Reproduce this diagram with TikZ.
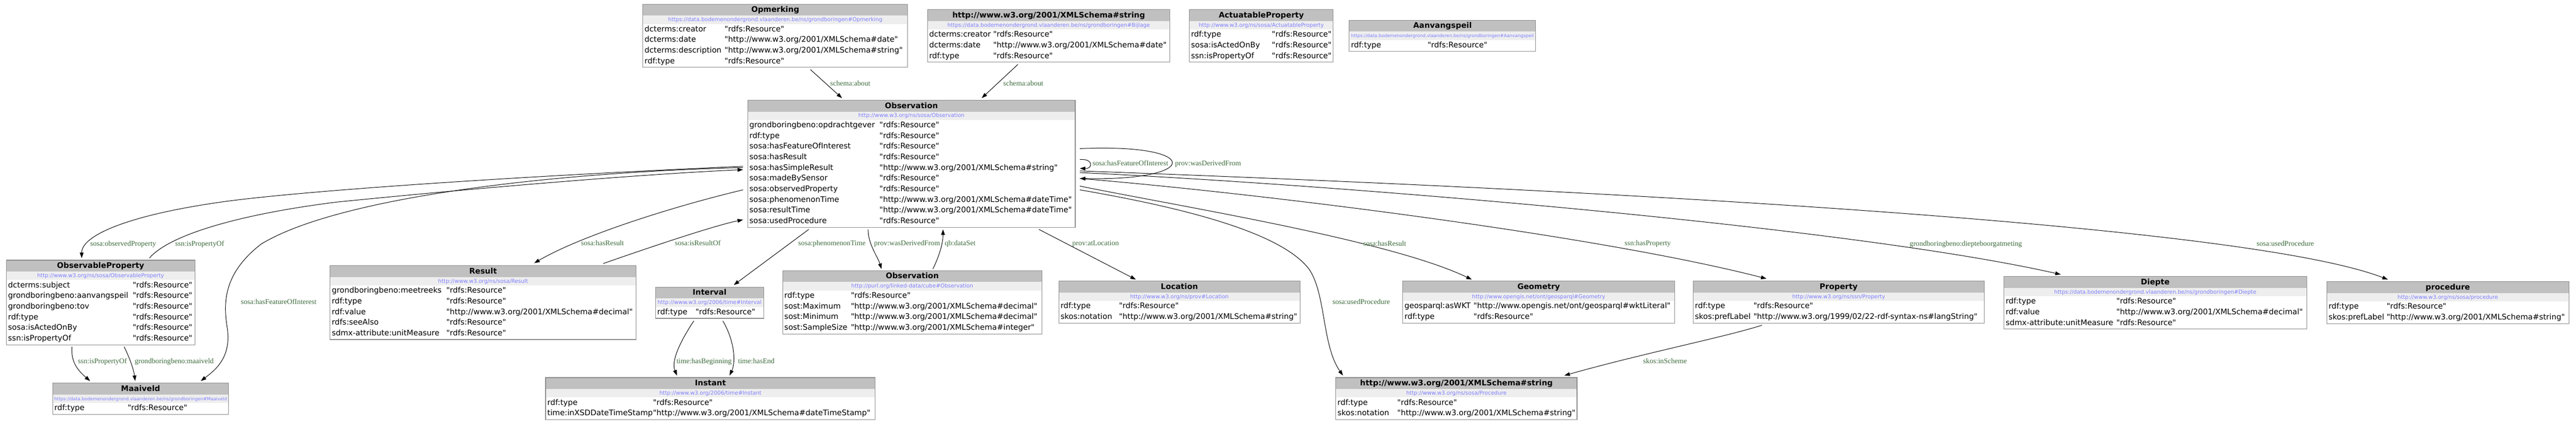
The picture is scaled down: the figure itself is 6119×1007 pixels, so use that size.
\documentclass[tikz,border=0pt]{standalone}
\usepackage{fontspec}
\newfontfamily\dvs{DejaVu Sans}
\newfontfamily\lser{Liberation Serif}
\usetikzlibrary{arrows.meta}
\definecolor{hdr}{HTML}{C0C0C0}
\definecolor{urlbg}{HTML}{EEEEEE}
\definecolor{urlc}{HTML}{7F7FFF}
\definecolor{bord}{HTML}{8A8A8A}
\definecolor{lblc}{HTML}{3D6B3D}
\tikzset{
 clsframe/.style={draw=bord, line width=1.3pt, fill=none, inner sep=0pt, outer sep=0pt},
 ttl/.style={anchor=base, inner sep=0pt, font=\dvs\bfseries\fontsize{18.3}{20}\selectfont},
 urlt/.style={anchor=base, inner sep=0pt, text=urlc, font=\dvs\fontsize{12.8}{14}\selectfont},
 rowtxt/.style={anchor=base west, inner sep=0pt, font=\dvs\fontsize{18.3}{20}\selectfont},
 lbl/.style={anchor=base west, inner sep=0pt, text=lblc, font=\lser\fontsize{17.3}{19}\selectfont},
 conn/.style={draw=black, line width=1.2pt, -{Triangle[length=13pt,width=9pt]}},
}
\newcommand\rdfR{"rdfs:Resource"}
\newcommand\xsdT[1]{"http://www.w3.org/2001/XMLSchema\##1"}
% name, x, y, w, nrows, valueoffset, title, url
\newcommand\cls[8]{%
  \def\bn{#1}\def\bx{#2}\def\by{#3}\def\bv{#6}%
  \fill[hdr] (#2,#3) rectangle ({#2+#4},{#3+27});
  \fill[urlbg] (#2,{#3+27}) rectangle ({#2+#4},{#3+47});
  \node[ttl] (#1-t) at ({#2+#4/2},{#3+19}) {#7};
  \node[urlt] (#1-u) at ({#2+#4/2},{#3+41}) {#8};
  \node[clsframe, minimum width=#4pt, minimum height={49pt+#5*25.3pt}, anchor=north west] (#1) at (#2,#3) {};
}
\newcommand\rw[3]{%
  \node[rowtxt] (\bn-k#1) at ({\bx+4},{\by+65+(#1-1)*25.3}) {#2};
  \node[rowtxt] (\bn-v#1) at ({\bx+\bv},{\by+65+(#1-1)*25.3}) {#3};
}
\begin{document}
\begin{tikzpicture}[x=1pt,y=-1pt]
\useasboundingbox (0,0) rectangle (6119,1007);
\fill[white] (0,0) rectangle (6119,1007);

% ---------- top rank
\cls{opm}{1527}{10}{629}{4}{194}{Opmerking}{https://data.bodemenondergrond.vlaanderen.be/ns/grondboringen\#Opmerking}
\rw{1}{dcterms:creator}{\rdfR}
\rw{2}{dcterms:date}{\xsdT{date}}
\rw{3}{dcterms:description}{\xsdT{string}}
\rw{4}{rdf:type}{\rdfR}

\cls{bij}{2203}{23}{576}{3}{156}{http://www.w3.org/2001/XMLSchema\#string}{https://data.bodemenondergrond.vlaanderen.be/ns/grondboringen\#Bijlage}
\rw{1}{dcterms:creator}{\rdfR}
\rw{2}{dcterms:date}{\xsdT{date}}
\rw{3}{rdf:type}{\rdfR}

\cls{act}{2825}{23}{342}{3}{196}{ActuatableProperty}{http://www.w3.org/ns/sosa/ActuatableProperty}
\rw{1}{rdf:type}{\rdfR}
\rw{2}{sosa:isActedOnBy}{\rdfR}
\rw{3}{ssn:isPropertyOf}{\rdfR}

\cls{aan}{3205}{48}{443}{1}{186}{Aanvangspeil}{{\fontsize{10.6}{12}\selectfont https://data.bodemenondergrond.vlaanderen.be/ns/grondboringen\#Aanvangspeil}}
\rw{1}{rdf:type}{\rdfR}

% ---------- Observation
\cls{obs}{1776}{238}{778}{10}{313}{Observation}{http://www.w3.org/ns/sosa/Observation}
\rw{1}{grondboringbeno:opdrachtgever}{\rdfR}
\rw{2}{rdf:type}{\rdfR}
\rw{3}{sosa:hasFeatureOfInterest}{\rdfR}
\rw{4}{sosa:hasResult}{\rdfR}
\rw{5}{sosa:hasSimpleResult}{\xsdT{string}}
\rw{6}{sosa:madeBySensor}{\rdfR}
\rw{7}{sosa:observedProperty}{\rdfR}
\rw{8}{sosa:phenomenonTime}{\xsdT{dateTime}}
\rw{9}{sosa:resultTime}{\xsdT{dateTime}}
\rw{10}{sosa:usedProcedure}{\rdfR}

% ---------- middle rank
\cls{op}{15}{618}{448}{6}{300}{ObservableProperty}{http://www.w3.org/ns/sosa/ObservableProperty}
\rw{1}{dcterms:subject}{\rdfR}
\rw{2}{grondboringbeno:aanvangspeil}{\rdfR}
\rw{3}{grondboringbeno:tov}{\rdfR}
\rw{4}{rdf:type}{\rdfR}
\rw{5}{sosa:isActedOnBy}{\rdfR}
\rw{6}{ssn:isPropertyOf}{\rdfR}

\cls{result}{784}{631}{727}{5}{276}{Result}{http://www.w3.org/ns/sosa/Result}
\rw{1}{grondboringbeno:meetreeks}{\rdfR}
\rw{2}{rdf:type}{\rdfR}
\rw{3}{rdf:value}{\xsdT{decimal}}
\rw{4}{rdfs:seeAlso}{\rdfR}
\rw{5}{sdmx-attribute:unitMeasure}{\rdfR}

\cls{interval}{1557}{682}{257}{1}{95}{Interval}{http://www.w3.org/2006/time\#Interval}
\rw{1}{rdf:type}{\rdfR}

\cls{cube}{1859}{643}{616}{4}{162}{Observation}{http://purl.org/linked-data/cube\#Observation}
\rw{1}{rdf:type}{\rdfR}
\rw{2}{sost:Maximum}{\xsdT{decimal}}
\rw{3}{sost:Minimum}{\xsdT{decimal}}
\rw{4}{sost:SampleSize}{\xsdT{integer}}

\cls{loc}{2515}{668}{573}{2}{143}{Location}{http://www.w3.org/ns/prov\#Location}
\rw{1}{rdf:type}{\rdfR}
\rw{2}{skos:notation}{\xsdT{string}}

\cls{geom}{3332}{668}{646}{2}{168}{Geometry}{http://www.opengis.net/ont/geosparql\#Geometry}
\rw{1}{geosparql:asWKT}{"http://www.opengis.net/ont/geosparql\#wktLiteral"}
\rw{2}{rdf:type}{\rdfR}

\cls{prop}{4022}{668}{691}{2}{143}{Property}{http://www.w3.org/ns/ssn/Property}
\rw{1}{rdf:type}{\rdfR}
\rw{2}{skos:prefLabel}{"http://www.w3.org/1999/02/22-rdf-syntax-ns\#langString"}

\cls{diepte}{4760}{657}{719}{3}{267}{Diepte}{https://data.bodemenondergrond.vlaanderen.be/ns/grondboringen\#Diepte}
\rw{1}{rdf:type}{\rdfR}
\rw{2}{rdf:value}{\xsdT{decimal}}
\rw{3}{sdmx-attribute:unitMeasure}{\rdfR}

\cls{proc}{5527}{669}{575}{2}{142}{procedure}{http://www.w3.org/ns/sosa/procedure}
\rw{1}{rdf:type}{\rdfR}
\rw{2}{skos:prefLabel}{\xsdT{string}}

% ---------- bottom rank
\cls{maai}{125}{910}{418}{1}{178}{Maaiveld}{{\fontsize{10.6}{12}\selectfont https://data.bodemenondergrond.vlaanderen.be/ns/grondboringen\#Maaiveld}}
\rw{1}{rdf:type}{\rdfR}

\cls{inst}{1296}{897}{783}{2}{255}{Instant}{http://www.w3.org/2006/time\#Instant}
\rw{1}{rdf:type}{\rdfR}
\rw{2}{time:inXSDDateTimeStamp}{\xsdT{dateTimeStamp}}

\cls{xsdb}{3173}{897}{573}{2}{146}{http://www.w3.org/2001/XMLSchema\#string}{http://www.w3.org/ns/sosa/Procedure}
\rw{1}{rdf:type}{\rdfR}
\rw{2}{skos:notation}{\xsdT{string}}

% ---------- connectors
\draw[conn] ([xshift=398pt,yshift=-5pt]opm.south west) -- ([xshift=224pt,yshift=5pt]obs.north west);
\node[lbl] (l1) at (1972,204) {schema:about};
\draw[conn] ([xshift=215pt,yshift=-5pt]bij.south west) -- ([xshift=556pt,yshift=5pt]obs.north west);
\node[lbl] (l2) at (2383,204) {schema:about};

\draw[conn] ([xshift=11pt,yshift=-141pt]obs.north east) .. controls (2597,376) and (2597,401) .. ([xshift=11pt,yshift=-162pt]obs.north east);
\node[lbl] (l3) at (2595,393) {sosa:hasFeatureOfInterest};
\draw[conn] ([xshift=11pt,yshift=-115pt]obs.north east) .. controls (2856,340) and (2856,430) .. ([xshift=11pt,yshift=-186pt]obs.north east);
\node[lbl] (l4) at (2791,393) {prov:wasDerivedFrom};

\draw[conn] ([xshift=-11pt,yshift=-157pt]obs.north west) .. controls (1200,420) and (700,455) .. (525,480) .. controls (300,512) and (194,560) .. ([xshift=179pt,yshift=5pt]op.north west);
\node[lbl] (l5) at (214,584) {sosa:observedProperty};
\draw[conn] ([xshift=340pt,yshift=5pt]op.north west) .. controls (400,560) and (560,510) .. (800,480) .. controls (1100,450) and (1500,415) .. ([xshift=-11pt,yshift=-165pt]obs.north west);
\node[lbl] (l6) at (416,584) {ssn:isPropertyOf};
\draw[conn] ([xshift=-11pt,yshift=-160pt]obs.north west) .. controls (1300,410) and (800,470) .. (620,580) .. controls (530,650) and (530,720) .. (540,780) .. controls (550,850) and (510,880) .. ([xshift=352pt,yshift=5pt]maai.north west);
\node[lbl] (l7) at (572,723) {sosa:hasFeatureOfInterest};

\draw[conn] ([xshift=156pt,yshift=-5pt]op.south west) .. controls (168,860) and (185,880) .. ([xshift=89pt,yshift=5pt]maai.north west);
\node[lbl] (l8) at (185,863) {ssn:isPropertyOf};
\draw[conn] ([xshift=280pt,yshift=-5pt]op.south west) .. controls (310,855) and (318,880) .. ([xshift=196pt,yshift=5pt]maai.north west);
\node[lbl] (l9) at (320,863) {grondboringbeno:maaiveld};

\draw[conn] ([xshift=-11pt,yshift=-213pt]obs.north west) .. controls (1600,490) and (1380,560) .. ([xshift=485pt,yshift=6pt]result.north west);
\node[lbl] (l10) at (1380,583) {sosa:hasResult};
\draw[conn] ([xshift=649pt,yshift=5pt]result.north west) .. controls (1550,585) and (1700,535) .. ([xshift=-11pt,yshift=-284pt]obs.north west);
\node[lbl] (l11) at (1603,583) {sosa:isResultOf};

\draw[conn] ([xshift=145pt,yshift=-5pt]obs.south west) -- ([xshift=186pt,yshift=5pt]interval.north west);
\node[lbl] (l12) at (1896,583) {sosa:phenomenonTime};
\draw[conn] ([xshift=286pt,yshift=-5pt]obs.south west) .. controls (2062,580) and (2085,610) .. ([xshift=235pt,yshift=4pt]cube.north west);
\node[lbl] (l13) at (2076,583) {prov:wasDerivedFrom};
\draw[conn] ([xshift=357pt,yshift=4pt]cube.north west) .. controls (2230,610) and (2240,580) .. ([xshift=464pt,yshift=-5pt]obs.south west);
\node[lbl] (l14) at (2244,583) {qb:dataSet};
\draw[conn] ([xshift=692pt,yshift=-5pt]obs.south west) -- ([xshift=183pt,yshift=4pt]loc.north west);
\node[lbl] (l15) at (2547,583) {prov:atLocation};

\draw[conn] ([xshift=11pt,yshift=-204pt]obs.north east) .. controls (2800,490) and (3300,570) .. ([xshift=164pt,yshift=4pt]geom.north west);
\node[lbl] (l16) at (3238,584) {sosa:hasResult};
\draw[conn] ([xshift=11pt,yshift=-213pt]obs.north east) .. controls (2850,500) and (3050,560) .. (3110,640) .. controls (3150,700) and (3140,820) .. ([xshift=17pt,yshift=5pt]xsdb.north west);
\node[lbl] (l17) at (3165,723) {sosa:usedProcedure};
\draw[conn] ([xshift=11pt,yshift=-186pt]obs.north east) .. controls (3000,460) and (3800,560) .. ([xshift=174pt,yshift=6pt]prop.north west);
\node[lbl] (l18) at (3859,583) {ssn:hasProperty};
\draw[conn] ([xshift=11pt,yshift=-172pt]obs.north east) .. controls (3200,440) and (4400,540) .. ([xshift=135pt,yshift=5pt]diepte.north west);
\node[lbl] (l19) at (4536,584) {grondboringbeno:diepteboorgatmeting};
\draw[conn] ([xshift=11pt,yshift=-168pt]obs.north east) .. controls (3500,440) and (5300,520) .. ([xshift=145pt,yshift=5pt]proc.north west);
\node[lbl] (l20) at (5360,584) {sosa:usedProcedure};

\draw[conn] ([xshift=163pt,yshift=-5pt]prop.south west) .. controls (4100,800) and (3900,840) .. ([xshift=543pt,yshift=5pt]xsdb.north west);
\node[lbl] (l21) at (3903,863) {skos:inScheme};

\draw[conn] ([xshift=91pt,yshift=-6pt]interval.south west) .. controls (1610,820) and (1595,860) .. ([xshift=312pt,yshift=5pt]inst.north west);
\node[lbl] (l22) at (1607,863) {time:hasBeginning};
\draw[conn] ([xshift=160pt,yshift=-6pt]interval.south west) .. controls (1745,810) and (1748,860) .. ([xshift=437pt,yshift=5pt]inst.north west);
\node[lbl] (l23) at (1753,863) {time:hasEnd};
\end{tikzpicture}
\end{document}
